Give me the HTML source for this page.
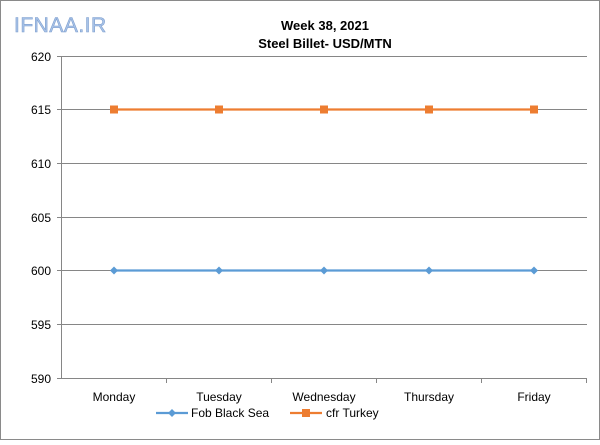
<!DOCTYPE html>
<html><head><style>
body{margin:0;background:#fff}
svg text{font-family:"Liberation Sans",sans-serif}
</style></head><body>
<svg width="600" height="440" xmlns="http://www.w3.org/2000/svg">
<rect x="0.5" y="0.5" width="599" height="439" fill="#fff" stroke="#8a8a8a"/>
<text x="14" y="32" font-size="21" fill="#a9c4e8" stroke="#7f9fcf" stroke-width="0.6" letter-spacing="0.5">IFNAA.IR</text>
<text x="325" y="30" font-size="13" font-weight="bold" text-anchor="middle" fill="#000">Week 38, 2021</text>
<text x="325" y="48" font-size="13" font-weight="bold" text-anchor="middle" fill="#000">Steel Billet- USD/MTN</text>
<g stroke="#868686" stroke-width="1">
<line x1="61" y1="56.5" x2="587" y2="56.5"/>
<line x1="61" y1="109.5" x2="587" y2="109.5"/>
<line x1="61" y1="163.5" x2="587" y2="163.5"/>
<line x1="61" y1="217.5" x2="587" y2="217.5"/>
<line x1="61" y1="270.5" x2="587" y2="270.5"/>
<line x1="61" y1="324.5" x2="587" y2="324.5"/>
<line x1="61" y1="378.5" x2="587" y2="378.5"/>
<line x1="61.5" y1="56" x2="61.5" y2="378"/>
<line x1="57" y1="56.5" x2="61" y2="56.5"/><line x1="57" y1="109.5" x2="61" y2="109.5"/><line x1="57" y1="163.5" x2="61" y2="163.5"/><line x1="57" y1="217.5" x2="61" y2="217.5"/><line x1="57" y1="270.5" x2="61" y2="270.5"/><line x1="57" y1="324.5" x2="61" y2="324.5"/><line x1="57" y1="378.5" x2="61" y2="378.5"/>
<line x1="166.5" y1="378" x2="166.5" y2="383"/><line x1="271.5" y1="378" x2="271.5" y2="383"/><line x1="376.5" y1="378" x2="376.5" y2="383"/><line x1="481.5" y1="378" x2="481.5" y2="383"/><line x1="586.5" y1="378" x2="586.5" y2="383"/>
</g>
<g font-size="12" fill="#000" text-anchor="end">
<text x="51" y="61">620</text><text x="51" y="114">615</text><text x="51" y="168">610</text><text x="51" y="222">605</text><text x="51" y="275">600</text><text x="51" y="329">595</text><text x="51" y="383">590</text>
</g>
<g font-size="12" fill="#000" text-anchor="middle">
<text x="114" y="401">Monday</text><text x="219" y="401">Tuesday</text><text x="324" y="401">Wednesday</text><text x="429" y="401">Thursday</text><text x="534" y="401">Friday</text>
</g>
<line x1="114" y1="109.5" x2="534" y2="109.5" stroke="#ed7d31" stroke-width="2.2"/>
<g fill="#ed7d31">
<rect x="110" y="105.5" width="8" height="8"/><rect x="215" y="105.5" width="8" height="8"/><rect x="320" y="105.5" width="8" height="8"/><rect x="425" y="105.5" width="8" height="8"/><rect x="530" y="105.5" width="8" height="8"/>
</g>
<line x1="114" y1="270.5" x2="534" y2="270.5" stroke="#5b9bd5" stroke-width="2.2"/>
<g fill="#5b9bd5">
<path d="M114 266.5l4 4-4 4-4-4z"/><path d="M219 266.5l4 4-4 4-4-4z"/><path d="M324 266.5l4 4-4 4-4-4z"/><path d="M429 266.5l4 4-4 4-4-4z"/><path d="M534 266.5l4 4-4 4-4-4z"/>
</g>
<line x1="156" y1="413" x2="188" y2="413" stroke="#5b9bd5" stroke-width="2.2"/>
<path d="M172 409l4 4-4 4-4-4z" fill="#5b9bd5"/>
<text x="191" y="417" font-size="12">Fob Black Sea</text>
<line x1="290" y1="413" x2="322" y2="413" stroke="#ed7d31" stroke-width="2.2"/>
<rect x="302" y="409" width="8" height="8" fill="#ed7d31"/>
<text x="326" y="417" font-size="12">cfr Turkey</text>
</svg>
</body></html>
